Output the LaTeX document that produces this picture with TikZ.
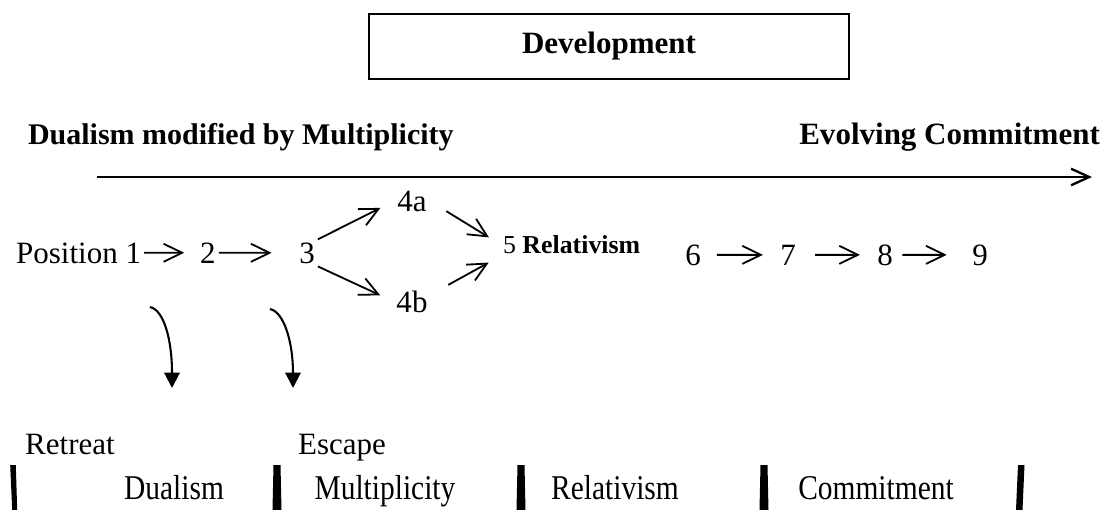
\documentclass[tikz,border=0pt]{standalone}
\usepackage{fontspec}
\setmainfont{Liberation Serif}
\usetikzlibrary{arrows.meta}
\tikzset{
  % plain stage text
  PT/.style={font=\fontsize{12}{14}\selectfont,inner sep=1pt},
  % bold heading text
  HT/.style={font=\fontsize{12}{14}\selectfont\bfseries,inner sep=1pt},
  % arrows
  Arr/.style ={-{Straight Barb[length=7.2pt,width=7pt]},line width=0.7pt},
  LArr/.style={-{Straight Barb[length=7pt,width=6.4pt]},line width=0.9pt},
  CArr/.style={-{Triangle[length=6pt,width=6pt]},line width=0.8pt},
  % bracket bars at the bottom
  Bar/.style={fill=black,draw=none},
}
\newcommand{\tallword}[1]{\scalebox{0.95}[1.12]{#1}}
\begin{document}
\begin{tikzpicture}[x=0.387pt,y=-0.387pt]
  \useasboundingbox (0,0) rectangle (1110,510);
  % title box
  \node[HT,draw,line width=0.8pt,minimum width=185.8pt,minimum height=25.2pt]
        at (609,46.5) (dev) {Development};
  % headings over the axis
  \node[HT,font=\fontsize{11.6}{14}\selectfont\bfseries,anchor=base west]
        at (25,144) (dmm) {Dualism modified by Multiplicity};
  \node[HT,anchor=base east] at (1103,144) (evc) {Evolving Commitment};
  \coordinate (axs) at (97,177);
  \coordinate (axe) at (1092,177);
  \draw[LArr] (axs) -- (axe);
  % positions
  \node[PT,anchor=base west] at (13,263)  (p1)  {Position 1};
  \node[PT,anchor=base]      at (208,263) (p2)  {2};
  \node[PT,anchor=base]      at (307,263) (p3)  {3};
  \node[PT,anchor=base]      at (412,211) (p4a) {4a};
  \node[PT,anchor=base]      at (412,312) (p4b) {4b};
  \node[PT,font=\fontsize{10}{12}\selectfont,anchor=base west]
        at (500,253) (p5) {5 \textbf{Relativism}};
  \node[PT,anchor=base]      at (693,265) (p6)  {6};
  \node[PT,anchor=base]      at (788,265) (p7)  {7};
  \node[PT,anchor=base]      at (885,265) (p8)  {8};
  \node[PT,anchor=base]      at (980,265) (p9)  {9};
  \draw[Arr,shorten >=5pt]   (p1) -- (p2);
  \draw[Arr,shorten >=9.5pt] (p2) -- (p3);
  \draw[Arr,shorten >=6pt]   (p3.north east) -- (p4a.west);
  \draw[Arr,shorten >=5.6pt] (p3.south east) -- (p4b.west);
  \draw[Arr,shorten <=7.5pt,shorten >=5pt] (p4a.east) -- (p5.west);
  \draw[Arr,shorten <=7.8pt,shorten >=5pt] (p4b.20) -- (p5.south west);
  \draw[Arr,shorten <=5pt,shorten >=5.5pt] (p6) -- (p7);
  \draw[Arr,shorten <=6.3pt,shorten >=5.5pt] (p7) -- (p8);
  \draw[Arr,shorten <=2.5pt,shorten >=8.7pt] (p8) -- (p9);
  % side exits
  \coordinate (rt0) at (150,307);
  \coordinate (rt1) at (172,388);
  \coordinate (es0) at (270,309);
  \coordinate (es1) at (293,388);
  \draw[CArr] (rt0) .. controls +(14,3) and +(0,-48) .. (rt1);
  \draw[CArr] (es0) .. controls +(14,3) and +(0,-46) .. (es1);
  \node[PT,anchor=base] at (70,454)  (ret) {Retreat};
  \node[PT,anchor=base] at (342,454) (esc) {Escape};
  % stage bands
  \node[PT,anchor=base] at (174,499) (sdu) {\tallword{Dualism}};
  \node[PT,anchor=base] at (385,499) (smu) {\tallword{Multiplicity}};
  \node[PT,anchor=base] at (615,499) (sre) {\tallword{Relativism}};
  \node[PT,anchor=base] at (876,499) (sco) {\tallword{Commitment}};
  \fill[Bar] (10.2,465) -- (15.8,465) -- (17.2,510) -- (12.2,510) -- cycle;
  \foreach \bx in {277,521,764}
    \fill[Bar] (\bx-3.5,465) -- (\bx+3.5,465) -- (\bx+4.5,510) -- (\bx-4.5,510) -- cycle;
  \fill[Bar] (1018,465) -- (1024.5,465) -- (1022.5,510) -- (1016,510) -- cycle;
\end{tikzpicture}
\end{document}
